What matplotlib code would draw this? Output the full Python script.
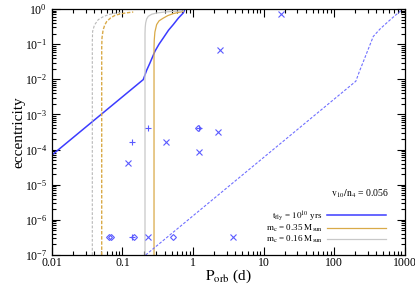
import numpy as np
import matplotlib
matplotlib.use("Agg")
from matplotlib import pyplot as plt
from matplotlib.ticker import LogLocator, FixedLocator, FixedFormatter, LogFormatterSciNotation, NullFormatter

plt.rcParams['font.family'] = ['Liberation Serif', 'DejaVu Serif']
plt.rcParams['mathtext.fontset'] = 'stix'

# blue track, t_fly = 1e10 yrs (solid) and shifted copy (dashed)
p_fly = [0.01, 0.197, 0.22, 0.245, 0.289, 0.33, 0.379, 0.45, 0.525, 0.62, 0.727, 0.77]
e_fly = [7e-5, 9.8e-3, 0.018, 0.029, 0.063, 0.10, 0.15, 0.25, 0.36, 0.55, 0.77, 1.0]
p_fly2 = [0.213, 204, 230, 261, 300, 361, 450, 558, 700, 863, 917]
e_fly2 = [1e-7, 8.8e-3, 0.017, 0.032, 0.065, 0.166, 0.27, 0.40, 0.6, 0.85, 1.0]

# m_c = 0.35 Msun (orange), m_c = 0.16 Msun (grey)
p_c35 = [0.28, 0.28, 0.282, 0.288, 0.305, 0.33, 0.379, 0.44, 0.525, 0.62, 0.727]
e_c35 = [1e-7, 0.08, 0.13, 0.22, 0.36, 0.46, 0.55, 0.65, 0.74, 0.80, 0.85]
p_c16 = [0.2085, 0.2085, 0.21, 0.213, 0.22, 0.232, 0.26, 0.305, 0.4, 0.55, 0.727]
e_c16 = [1e-7, 0.2, 0.3, 0.4, 0.52, 0.62, 0.71, 0.77, 0.82, 0.86, 0.89]
p_c35d = [0.0507, 0.0507, 0.0512, 0.053, 0.056, 0.0597, 0.068, 0.0783, 0.092, 0.11, 0.142]
e_c35d = [1e-7, 0.08, 0.15, 0.25, 0.35, 0.44, 0.56, 0.66, 0.72, 0.77, 0.82]
p_c16d = [0.0373, 0.0373, 0.0377, 0.040, 0.0454, 0.053, 0.0629, 0.075, 0.0975]
e_c16d = [1e-7, 0.12, 0.23, 0.35, 0.5, 0.6, 0.69, 0.75, 0.82]

# observed systems
p_x = [17.7, 2.41, 2.29, 0.42, 0.121, 1.22, 3.66, 0.227]
e_x = [0.70, 0.07, 3.2e-4, 1.6e-4, 4.2e-5, 8.6e-5, 3.2e-7, 3.2e-7]
p_plus = [0.227, 0.135, 1.2, 0.135]
e_plus = [4.2e-4, 1.66e-4, 4.2e-4, 3.2e-7]
p_dia = [0.064, 0.069, 0.145, 0.525, 1.17]
e_dia = [3.2e-7, 3.2e-7, 3.2e-7, 3.2e-7, 4.2e-4]

xticks = [0.01, 0.1, 1, 10, 100, 1000]
xticklabels = ['0.01', '0.1', '1', '10', '100', '1000']

blue = '#3c3cff'
mblue = '#5a5aff'
orange = '#d9aa48'
grey = '#c8c8c8'

fig = plt.figure(figsize=(4.15, 2.91), dpi=100)
ax = fig.add_axes([0.1253, 0.1237, 0.8494, 0.8454])

ax.plot(p_fly, e_fly, color=blue, lw=1.1, label=r'$\mathrm{t_{fly}}$ = $\mathrm{10^{10}}$ yrs')
ax.plot(p_c35, e_c35, color=orange, lw=0.9, label=r'$\mathrm{m_c}$ = 0.35 $\mathrm{M_{sun}}$')
ax.plot(p_c16, e_c16, color=grey, lw=0.9, label=r'$\mathrm{m_c}$ = 0.16 $\mathrm{M_{sun}}$')
ax.plot(p_fly2, e_fly2, color='#7070ff', lw=0.8, ls=(0, (2.5, 1.5)))
ax.plot(p_c35d, e_c35d, color=orange, lw=1.0, ls=(0, (2.5, 1.2)))
ax.plot(p_c16d, e_c16d, color='#b8b8b8', lw=0.8, ls=(0, (2.5, 1.5)))

ax.plot(p_x, e_x, ls='none', marker='x', ms=4, mew=0.8, color=mblue)
ax.plot(p_plus, e_plus, ls='none', marker='+', ms=4.5, mew=0.8, color=mblue)
ax.plot(p_dia, e_dia, ls='none', marker='D', ms=3, mew=0.8, mfc='none', mec=mblue)

ax.set_xscale('log')
ax.set_yscale('log')
ax.set_xlim(0.01, 1000)
ax.set_ylim(1e-7, 1)

ax.xaxis.set_major_locator(FixedLocator(xticks))
ax.xaxis.set_major_formatter(FixedFormatter(xticklabels))
ax.xaxis.set_minor_locator(LogLocator(base=10, subs=np.arange(2, 10), numticks=20))
ax.xaxis.set_minor_formatter(NullFormatter())
ax.yaxis.set_major_locator(LogLocator(base=10, numticks=20))
ax.yaxis.set_major_formatter(LogFormatterSciNotation())
ax.yaxis.set_minor_locator(LogLocator(base=10, subs=np.arange(2, 10), numticks=20))
ax.yaxis.set_minor_formatter(NullFormatter())

ax.tick_params(which='both', direction='in', top=True, right=True, labelsize=8.5, width=0.8)
ax.tick_params(which='major', length=6)
ax.tick_params(which='minor', length=3)
ax.tick_params(axis='x', pad=1.5)
for s in ax.spines.values():
    s.set_linewidth(0.9)

ax.set_xlabel(r'$\mathrm{P_{orb}}$ (d)', fontsize=11, labelpad=-1)
ax.set_ylabel('eccentricity', fontsize=11, labelpad=-0.5)

ax.text(0.874, 0.248, r'$\mathrm{v_{10}/n_4}$ = 0.056', transform=ax.transAxes,
        ha='center', va='center', fontsize=7)
ax.legend(loc='lower right', bbox_to_anchor=(0.9475, 0.04), frameon=False, fontsize=6.5,
          markerfirst=False, handlelength=6.5, labelspacing=0.0, borderpad=0,
          borderaxespad=0, handletextpad=0.5)

fig.savefig('out.png', dpi=100)
